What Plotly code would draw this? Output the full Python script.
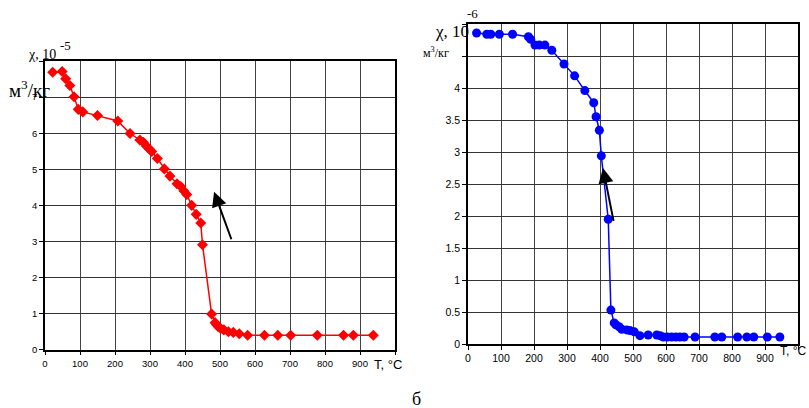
import plotly.graph_objects as go

# ---- data: left panel (red) ----
t_left = [22, 49, 59, 71, 83, 95, 108, 150, 208, 243, 271, 281, 290, 298, 305, 321, 341, 357,
          377, 388, 397, 405, 419, 432, 445, 450, 476, 486, 490, 495, 502, 511, 524, 538, 555,
          579, 627, 665, 702, 778, 853, 881, 938]
chi_left = [7.69, 7.71, 7.51, 7.32, 7.01, 6.66, 6.59, 6.49, 6.34, 5.99, 5.81, 5.75, 5.64, 5.56,
            5.49, 5.30, 5.01, 4.81, 4.60, 4.52, 4.40, 4.30, 4.00, 3.75, 3.51, 2.91, 0.99, 0.75,
            0.69, 0.64, 0.59, 0.55, 0.50, 0.48, 0.44, 0.40, 0.40, 0.40, 0.40, 0.40, 0.40, 0.40, 0.40]

# ---- data: right panel (blue) ----
t_right = [26, 57, 69, 95, 135, 183, 190, 203, 216, 233, 254, 291, 323, 354, 381, 388, 398, 404,
           425, 433, 443, 448, 458, 466, 481, 491, 504, 521, 546, 572, 582, 592, 604, 617, 630,
           642, 655, 688, 748, 769, 817, 845, 866, 907, 945]
chi_right = [4.86, 4.84, 4.84, 4.84, 4.84, 4.80, 4.76, 4.67, 4.67, 4.67, 4.59, 4.375, 4.19, 3.96,
             3.77, 3.55, 3.34, 2.94, 1.95, 0.53, 0.33, 0.30, 0.27, 0.23, 0.22, 0.21, 0.19, 0.13,
             0.14, 0.14, 0.13, 0.11, 0.11, 0.11, 0.11, 0.11, 0.11, 0.11, 0.11, 0.11, 0.11, 0.11,
             0.11, 0.11, 0.11]

x_ticks = [0, 100, 200, 300, 400, 500, 600, 700, 800, 900, 1000]
x_ticktext = ["0", "100", "200", "300", "400", "500", "600", "700", "800", "900", ""]
yl_ticks = [0, 1, 2, 3, 4, 5, 6, 7, 8]
yl_ticktext = ["0", "1", "2", "3", "4", "5", "6", "7", ""]
yr_ticks = [0, 0.5, 1, 1.5, 2, 2.5, 3, 3.5, 4, 4.5, 5]
yr_ticktext = ["0", "0.5", "1", "1.5", "2", "2.5", "3", "3.5", "4", "", ""]

W, H = 809, 408


def px(x):
    return x / W


def py(y):
    return 1 - y / H


fig = go.Figure()
fig.add_trace(go.Scatter(x=t_left, y=chi_left, mode="lines+markers",
                         line=dict(color="#FF0000", width=1.5),
                         marker=dict(symbol="diamond", size=8.5, color="#FF0000"),
                         xaxis="x", yaxis="y", showlegend=False))
fig.add_trace(go.Scatter(x=t_right, y=chi_right, mode="lines+markers",
                         line=dict(color="#0000FF", width=1.5),
                         marker=dict(symbol="circle", size=9, color="#0000FF"),
                         xaxis="x2", yaxis="y2", showlegend=False))

tick_l = dict(family="Liberation Sans", size=9.5, color="black")
tick_r = dict(family="Liberation Sans", size=10.5, color="black")


def xax(font):
    return dict(range=[0, 1000], tickvals=x_ticks, ticktext=x_ticktext, showgrid=True,
                gridcolor="#444444", gridwidth=1, showline=True, linecolor="black", linewidth=1.5,
                mirror=True, ticks="outside", ticklen=4, tickcolor="black", tickfont=font,
                zeroline=False, fixedrange=True)


def yax(font):
    return dict(showgrid=True, gridcolor="#333333", gridwidth=1, showline=True, linecolor="black",
                linewidth=1.5, mirror=True, ticks="outside", ticklen=4, tickcolor="black",
                tickfont=font, zeroline=False, fixedrange=True)


fig.update_layout(
    template="none",
    width=W, height=H, autosize=False,
    margin=dict(l=0, r=0, t=0, b=0, pad=0),
    paper_bgcolor="white", plot_bgcolor="white",
    xaxis=dict(domain=[px(45), px(395)], anchor="y", **xax(tick_l)),
    yaxis=dict(domain=[py(349.7), py(61)], anchor="x", range=[0, 8], tickvals=yl_ticks,
               ticktext=yl_ticktext, **yax(tick_l)),
    xaxis2=dict(domain=[px(468), px(798)], anchor="y2", **xax(tick_r)),
    yaxis2=dict(domain=[py(344), py(24)], anchor="x2", range=[0, 5], tickvals=yr_ticks,
                ticktext=yr_ticktext, **yax(tick_r)),
)

serif = "Liberation Serif"
sans = "Liberation Sans"
ann = [
    dict(text="χ, 10", x=px(41.5), y=py(55), xanchor="center", font=dict(family=serif, size=14)),
    dict(text="-5", x=px(65), y=py(45), xanchor="center", font=dict(family=serif, size=13)),
    dict(text="м<sup>3</sup>/кг", x=px(30), y=py(89), xanchor="center", font=dict(family=serif, size=19)),
    dict(text="T, °C", x=px(388), y=py(364), xanchor="center", font=dict(family=sans, size=13)),
    dict(text="χ, 10", x=px(452), y=py(32), xanchor="center", font=dict(family=serif, size=17)),
    dict(text="-6", x=px(472), y=py(13), xanchor="center", font=dict(family=serif, size=13)),
    dict(text="м<sup>3</sup>/кг", x=px(436), y=py(53), xanchor="center", font=dict(family=serif, size=12)),
    dict(text="T, °C", x=px(808), y=py(351), xanchor="right", font=dict(family=sans, size=12)),
    dict(text="б", x=px(416), y=py(399), xanchor="center", font=dict(family=serif, size=18)),
]
for a in ann:
    fig.add_annotation(xref="paper", yref="paper", showarrow=False, yanchor="middle",
                       font_color="black", **a)

# arrows
fig.add_annotation(xref="x", yref="y", axref="x", ayref="y", x=483, y=4.38, ax=534, ay=3.02,
                   showarrow=True, arrowhead=2, arrowsize=1.5, arrowwidth=2, arrowcolor="black",
                   text="")
fig.add_annotation(xref="x2", yref="y2", axref="x2", ayref="y2", x=409, y=2.75, ax=442, ay=1.9,
                   showarrow=True, arrowhead=2, arrowsize=1.5, arrowwidth=2, arrowcolor="black",
                   text="")

fig.write_html("out.html", post_script="document.body.style.margin='0px';",
               config={"displayModeBar": False})
